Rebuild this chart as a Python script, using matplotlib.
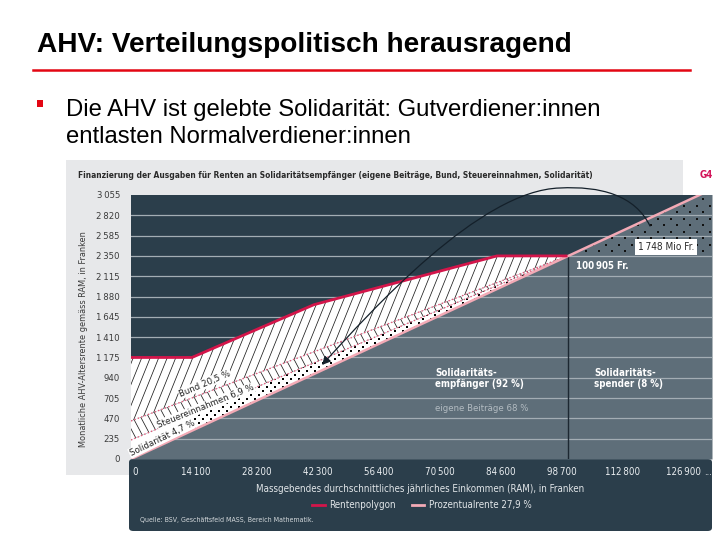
import matplotlib
matplotlib.use("Agg")
import matplotlib.pyplot as plt
import matplotlib.transforms as mtransforms
import numpy as np
from matplotlib import font_manager
from matplotlib.lines import Line2D
from matplotlib.patches import FancyArrowPatch, FancyBboxPatch, Rectangle
from matplotlib.path import Path

## DATA
RAM = [0, 14100, 42300, 84600, 100905]          # Knickpunkte Rentenpolygon (Fr. pro Jahr)
RENTE = [1175, 1175, 1786, 2350, 2350]          # Monatsrente (Fr.)
PROZ_RENTE = 0.279                              # Prozentualrente 27,9 % des RAM
SOLID_TOP0 = 220                                # obere Grenze "Solidarität" bei RAM 0
STEUER_TOP0 = 440                               # obere Grenze "Steuereinnahmen" bei RAM 0
X_MAX = 134300
Y_MAX = 3055

Y_TICKS = [0, 235, 470, 705, 940, 1175, 1410, 1645, 1880, 2115, 2350, 2585, 2820, 3055]
X_TICKS = [0, 14100, 28200, 42300, 56400, 70500, 84600, 98700, 112800, 126900]

## COLOURS / FONTS
DARK = "#2b3e4b"
GRAY = "#5e6e79"
GRID = "#a3adb4"
PANEL = "#e7e8ea"
CRIMSON = "#d3154a"
PINK = "#f3aab6"
DOTPINK = "#e25a7c"

names = {f.name for f in font_manager.fontManager.ttflist}
NARROW = "Liberation Sans Narrow" if "Liberation Sans Narrow" in names else "DejaVu Sans"
plt.rcParams["font.family"] = [NARROW, "DejaVu Sans"]
plt.rcParams["font.stretch"] = "condensed"
ARIAL = ["Liberation Sans", "DejaVu Sans"]

W_PX, H_PX = 720, 540
AX_L, AX_R, AX_T, AX_B = 131, 712, 195, 459     # axes box in pixels
AW, AH = AX_R - AX_L, AX_B - AX_T

fig = plt.figure(figsize=(7.2, 5.4), dpi=100)
fig.patch.set_facecolor("white")

# light panel behind chart and dark band under it
fig.add_artist(Rectangle((66 / W_PX, 1 - 475 / H_PX), (683 - 66) / W_PX, (475 - 160) / H_PX,
                         transform=fig.transFigure, facecolor=PANEL, edgecolor="none", zorder=-2))
fig.add_artist(FancyBboxPatch((129 / W_PX, 1 - 531 / H_PX), (712 - 129) / W_PX, (531 - 459) / H_PX,
                              boxstyle="round,pad=0,rounding_size=0.006",
                              transform=fig.transFigure, facecolor=DARK, edgecolor="none", zorder=-1))

ax = fig.add_axes([AX_L / W_PX, 1 - AX_B / H_PX, AW / W_PX, AH / H_PX])
ax.set_facecolor(DARK)
for s in ax.spines.values():
    s.set_visible(False)

x = np.array(RAM, dtype=float)
own = x * PROZ_RENTE / 12
d1 = SOLID_TOP0 + (RENTE[-1] - SOLID_TOP0) * x / RAM[-1]
d2 = STEUER_TOP0 + (RENTE[-1] - STEUER_TOP0) * x / RAM[-1]
xr = np.array([RAM[-1], X_MAX])
own_r = xr * PROZ_RENTE / 12

# eigene Beitraege (grey wedge under the Prozentualrente)
ax.fill_between([0, X_MAX], [0, X_MAX * PROZ_RENTE / 12], 0, color=GRAY, lw=0, zorder=1)
for v in Y_TICKS[1:-1]:
    ax.axhline(v, color=GRID, lw=0.9, zorder=2)


def hatch(coll, angle, step, lw=0.55):
    run = AH / np.tan(np.radians(angle))
    clip = coll.get_paths()[0]
    for s in np.arange(min(0, -run) - step, AW + max(0, -run) + step, step):
        ln, = ax.plot([s / AW, (s + run) / AW], [0, 1], transform=ax.transAxes,
                      color="#1e1e1e", lw=lw, zorder=3.5)
        ln.set_clip_path(clip, ax.transData)


def dots(coll, step, size, color="black"):
    clip = coll.get_paths()[0]
    pts = []
    for i, yy in enumerate(np.arange(0, AH, step / 2)):
        off = (step / 2) * (i % 2)
        for xx in np.arange(off, AW, step):
            pts.append((xx / AW, yy / AH))
    pts = np.array(pts)
    sc = ax.scatter(pts[:, 0], pts[:, 1], s=size, marker="s", color=color, lw=0,
                    transform=ax.transAxes, zorder=3.6)
    sc.set_clip_path(clip, ax.transData)


bund = ax.fill_between(x, d2, RENTE, facecolor="white", lw=0, zorder=3)
hatch(bund, 68, 8.5)
steuer = ax.fill_between(x, d1, d2, facecolor="white", lw=0, zorder=3)
hatch(steuer, 118, 8)
ax.fill_between(x, own, d1, facecolor="white", lw=0, zorder=3)
solid_dots = ax.fill_between(x[1:], own[1:], d1[1:], facecolor="none", lw=0, zorder=3)
dots(solid_dots, 8, 2.2)

# Solidaritaetsspender: above the maximum rente, below the Prozentualrente
spender = ax.fill_between(xr, RENTE[-1], own_r, facecolor="none", lw=0, zorder=3)
dots(spender, 13, 2.6, color="#111111")

ax.plot(x, d1, color=DOTPINK, lw=1.0, ls=(0, (1, 1.6)), zorder=4)
ax.plot(x, d2, color=DOTPINK, lw=1.0, ls=(0, (1, 1.6)), zorder=4)
ax.plot([0, X_MAX], [0, X_MAX * PROZ_RENTE / 12], color=PINK, lw=1.8, zorder=5)
ax.plot(RAM, RENTE, color=CRIMSON, lw=2.0, zorder=5, solid_capstyle="butt")
ax.plot([RAM[-1], RAM[-1]], [0, RENTE[-1]], color="#1c2731", lw=1.0, zorder=4)

ax.set_xlim(0, X_MAX)
ax.set_ylim(0, Y_MAX)


def fmt(v):
    return f"{v:,}".replace(",", "\u2009")


ax.set_yticks(Y_TICKS, [fmt(v) for v in Y_TICKS])
ax.set_xticks(X_TICKS, [fmt(v) for v in X_TICKS])
ax.tick_params(axis="y", length=0, pad=8, labelsize=6.8, labelcolor="#3b3b3b")
ax.tick_params(axis="x", length=0, pad=6, labelsize=7, labelcolor="#e9edf0")
shift = mtransforms.ScaledTranslation(0.04, 0, fig.dpi_scale_trans)
for lbl in ax.get_xticklabels():
    lbl.set_transform(lbl.get_transform() + shift)
ax.text(1.0, -0.048, "...", transform=ax.transAxes, ha="right", va="center",
        color="#e9edf0", fontsize=7)

# curved arrow from the spender area to the Solidaritaet band
arc = Path([(119970, 2696), (116500, 3055), (108400, 3160), (99160, 3136),
            (80670, 3113), (55480, 1713), (44150, 1088)],
           [Path.MOVETO, Path.CURVE4, Path.CURVE4, Path.CURVE4,
            Path.CURVE4, Path.CURVE4, Path.CURVE4])
ax.add_patch(FancyArrowPatch(path=arc, arrowstyle="-|>,head_length=5,head_width=2.5",
                             color="#14202a", lw=0.9, zorder=6, clip_on=False))

# labels inside the plot
lbl_box = dict(boxstyle="square,pad=0.08", facecolor="white", edgecolor="none")
ax.text(17100, 870, "Bund 20,5 %", rotation=23, ha="center", va="center",
        fontsize=6.8, color="#222222", zorder=7, bbox=lbl_box)
ax.text(17300, 610, "Steuereinnahmen 6,9 %", rotation=22, ha="center", va="center",
        fontsize=6.8, color="#222222", zorder=7, bbox=lbl_box)
ax.text(7200, 240, "Solidarität 4,7 %", rotation=26, ha="center", va="center",
        fontsize=6.8, color="#222222", zorder=7, bbox=lbl_box)
ax.text(70300, 930, "Solidaritäts-\nempfänger (92 %)", ha="left", va="center",
        fontsize=7, weight="bold", color="white", linespacing=1.15, zorder=7)
ax.text(107000, 930, "Solidaritäts-\nspender (8 %)", ha="left", va="center",
        fontsize=7, weight="bold", color="white", linespacing=1.15, zorder=7)
ax.text(70300, 580, "eigene Beiträge 68 %", ha="left", va="center",
        fontsize=6.8, color="#b3bcc2", zorder=7)
ax.text(102900, 2230, "100\u2009905 Fr.", ha="left", va="center",
        fontsize=7, weight="bold", color="white", zorder=7)
ax.text(123700, 2455, "1\u2009748 Mio Fr.", ha="center", va="center", fontsize=7.2,
        color="#2a2a2a", zorder=7,
        bbox=dict(boxstyle="square,pad=0.3", facecolor="white", edgecolor="none"))

# text around the chart
fig.text(37 / W_PX, 1 - 45 / H_PX, "AHV: Verteilungspolitisch herausragend",
         family=ARIAL, stretch="normal", fontsize=20.2, weight="bold", color="black", va="center")
fig.add_artist(Line2D([33 / W_PX, 690 / W_PX], [1 - 70 / H_PX, 1 - 70 / H_PX],
                      transform=fig.transFigure, color="#e30613", lw=1.8))
fig.add_artist(Rectangle((37 / W_PX, 1 - 107 / H_PX), 6 / W_PX, 7 / H_PX,
                         transform=fig.transFigure, facecolor="#e30613", edgecolor="none"))
fig.text(66 / W_PX, 1 - 110 / H_PX, "Die AHV ist gelebte Solidarität: Gutverdiener:innen",
         family=ARIAL, stretch="normal", fontsize=17.2, color="black", va="center")
fig.text(66 / W_PX, 1 - 137 / H_PX, "entlasten Normalverdiener:innen",
         family=ARIAL, stretch="normal", fontsize=17.2, color="black", va="center")

fig.text(78 / W_PX, 1 - 175 / H_PX,
         "Finanzierung der Ausgaben für Renten an Solidaritätsempfänger "
         "(eigene Beiträge, Bund, Steuereinnahmen, Solidarität)",
         fontsize=6.0, weight="bold", color="#2a2a2a", va="center")
fig.text(700 / W_PX, 1 - 175 / H_PX, "G4", fontsize=7, weight="bold", color="#d3145a", va="center")
fig.text(84 / W_PX, 1 - 339 / H_PX, "Monatliche AHV-Altersrente gemäss RAM, in Franken",
         rotation=90, fontsize=6.6, color="#3b3b3b", ha="center", va="center")

fig.text(420 / W_PX, 1 - 489 / H_PX,
         "Massgebendes durchschnittliches jährliches Einkommen (RAM), in Franken",
         fontsize=7, color="#e2e6e9", ha="center", va="center")
handles = [Line2D([], [], color=CRIMSON, lw=2), Line2D([], [], color=PINK, lw=2)]
fig.legend(handles, ["Rentenpolygon", "Prozentualrente 27,9 %"], loc="center",
           bbox_to_anchor=(422 / W_PX, 1 - 505 / H_PX), ncol=2, frameon=False,
           fontsize=7, labelcolor="#e2e6e9", handlelength=1.3, handletextpad=0.5,
           columnspacing=1.6)
fig.text(140 / W_PX, 1 - 520 / H_PX, "Quelle: BSV, Geschäftsfeld MASS, Bereich Mathematik.",
         fontsize=5, color="#d3d8db", va="center")

fig.savefig("out.png", dpi=100)
